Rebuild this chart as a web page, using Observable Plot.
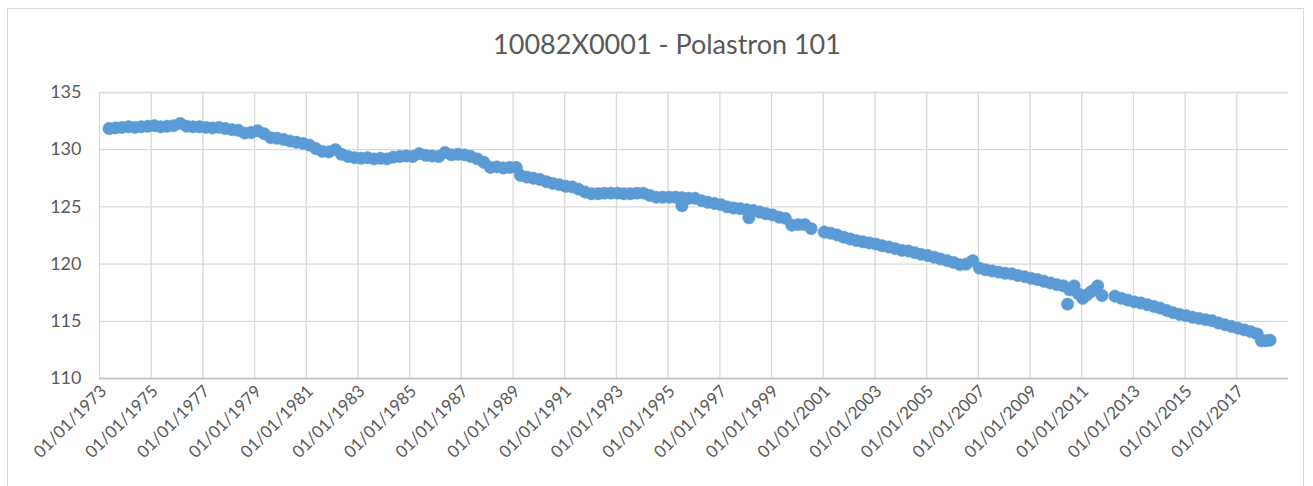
<!DOCTYPE html>
<html>
<head>
<meta charset="utf-8">
<script src="https://cdn.jsdelivr.net/npm/d3@7"></script>
<script src="https://cdn.jsdelivr.net/npm/@observablehq/plot@0.6"></script>
<style>
  html, body { margin: 0; padding: 0; background: #fff; }
  #wrap { position: relative; width: 1313px; height: 486px; overflow: hidden; font-family: Lato, "Liberation Sans", sans-serif; }
  #frame { position: absolute; left: 7px; top: 8px; width: 1297px; height: 500px; border: 1px solid #D9D9D9; box-sizing: border-box; }
  #title { position: absolute; left: 0; width: 1334px; top: 27px; text-align: center; font-size: 27px; color: #595959; }
  #chart { position: absolute; left: 0; top: 0; }
</style>
</head>
<body>
<div id="wrap">
  <div id="frame"></div>
  <div id="chart"></div>
  <div id="title">10082X0001 - Polastron 101</div>
</div>
<script>
const title = "10082X0001 - Polastron 101";

const dates = [
  "1973-05","1973-08","1973-11","1974-02","1974-05","1974-08","1974-11",
  "1975-02","1975-05","1975-08","1975-11","1976-02","1976-05","1976-08","1976-11",
  "1977-02","1977-05","1977-08","1977-11","1978-02","1978-05","1978-08","1978-11",
  "1979-02","1979-05","1979-08","1979-11","1980-02","1980-05","1980-08","1980-11",
  "1981-02","1981-05","1981-08","1981-11","1982-02","1982-05","1982-08","1982-11",
  "1983-02","1983-05","1983-08","1983-11","1984-02","1984-05","1984-08","1984-11",
  "1985-02","1985-05","1985-08","1985-11","1986-02","1986-05","1986-08","1986-11",
  "1987-02","1987-05","1987-08","1987-11","1988-02","1988-05","1988-08","1988-11",
  "1989-02","1989-04","1989-07","1989-10","1990-01","1990-04","1990-07","1990-10",
  "1991-01","1991-04","1991-07","1991-10","1992-01","1992-04","1992-07","1992-10",
  "1993-01","1993-04","1993-07","1993-10","1994-01","1994-04","1994-07","1994-10",
  "1995-01","1995-04","1995-07","1995-10","1996-01","1996-04","1996-07","1996-10",
  "1997-01","1997-04","1997-07","1997-10","1998-01","1998-04","1998-07","1998-10",
  "1999-01","1999-04","1999-07","1999-10","2000-01","2000-04","2000-07",
  "2001-01","2001-04","2001-07","2001-10","2002-01","2002-04","2002-07","2002-10",
  "2003-01","2003-04","2003-07","2003-10","2004-01","2004-04","2004-07","2004-10",
  "2005-01","2005-04","2005-07","2005-10","2006-01","2006-04","2006-07","2006-10",
  "2007-01","2007-04","2007-07","2007-10","2008-01","2008-04","2008-07","2008-10",
  "2009-01","2009-04","2009-07","2009-10","2010-01","2010-04","2010-07","2010-09","2010-11",
  "2011-01","2011-03","2011-05","2011-07","2011-08","2011-10",
  "2012-04","2012-07","2012-10","2013-01","2013-04","2013-07","2013-10",
  "2014-01","2014-04","2014-07","2014-10","2015-01","2015-04","2015-07","2015-10",
  "2016-01","2016-04","2016-07","2016-10","2017-01","2017-04","2017-07","2017-10",
  "2017-12","2018-02","2018-04",
  "1995-07","1998-02","2010-06"
];

const levels = [
  131.85,131.9,131.95,132.0,131.95,132.0,132.05,
  132.1,132.0,132.05,132.1,132.3,132.05,132.0,132.0,
  131.95,131.9,131.95,131.85,131.75,131.7,131.45,131.5,
  131.65,131.4,131.05,131.0,130.9,130.75,130.65,130.55,
  130.4,130.1,129.85,129.8,130.0,129.6,129.4,129.3,
  129.25,129.3,129.2,129.25,129.2,129.35,129.4,129.45,
  129.4,129.65,129.5,129.45,129.4,129.75,129.55,129.6,
  129.55,129.4,129.2,128.9,128.45,128.5,128.4,128.45,
  128.45,127.75,127.6,127.5,127.4,127.2,127.05,126.95,
  126.8,126.75,126.55,126.3,126.15,126.15,126.2,126.2,
  126.2,126.15,126.15,126.2,126.2,126.0,125.85,125.85,
  125.85,125.85,125.8,125.75,125.75,125.55,125.4,125.3,
  125.2,125.0,124.9,124.85,124.75,124.7,124.55,124.4,
  124.3,124.1,124.0,123.4,123.45,123.45,123.1,
  122.8,122.7,122.55,122.35,122.2,122.05,121.95,121.85,
  121.75,121.6,121.5,121.35,121.2,121.15,121.0,120.85,
  120.75,120.6,120.45,120.3,120.15,119.95,120.0,120.3,
  119.65,119.5,119.4,119.3,119.2,119.15,119.0,118.9,
  118.75,118.65,118.5,118.35,118.2,118.1,117.75,118.1,117.4,
  117.0,117.3,117.6,117.8,118.1,117.25,
  117.2,117.0,116.85,116.7,116.6,116.45,116.3,
  116.15,115.95,115.75,115.6,115.5,115.35,115.25,115.15,
  115.05,114.85,114.7,114.55,114.4,114.25,114.1,113.9,
  113.3,113.3,113.35,
  125.1,124.05,116.5
];

const tickYears = [1973,1975,1977,1979,1981,1983,1985,1987,1989,1991,1993,1995,1997,1999,2001,2003,2005,2007,2009,2011,2013,2015,2017];
const yTicks = [110,115,120,125,130,135];
const xStartYear = 1973, xEndYear = 2019;

const parseMonth = d3.utcParse("%Y-%m");
const rows = dates.map((d, i) => ({date: new Date(parseMonth(d).getTime() + 14 * 864e5), level: levels[i]}));
const xTicks = tickYears.map(y => new Date(Date.UTC(y, 0, 1)));
const fmt = d3.utcFormat("%d/%m/%Y");

const chart = Plot.plot({
  width: 1313,
  height: 486,
  marginLeft: 99,
  marginRight: 25,
  marginTop: 92,
  marginBottom: 108,
  style: {fontFamily: "Lato, 'Liberation Sans', sans-serif", fontSize: "17px", color: "#595959", background: "transparent"},
  x: {type: "utc", domain: [new Date(Date.UTC(xStartYear, 0, 1)), new Date(Date.UTC(xEndYear, 0, 1))]},
  y: {domain: [110, 135]},
  marks: [
    Plot.gridX(xTicks, {stroke: "#D9D9D9", strokeOpacity: 1, strokeWidth: 1.3}),
    Plot.gridY(yTicks, {stroke: "#D9D9D9", strokeOpacity: 1, strokeWidth: 1.3}),
    Plot.ruleY([110], {stroke: "#BFBFBF", strokeWidth: 1.6}),
    Plot.axisY(yTicks, {tickSize: 0, tickPadding: 18, label: null, fill: "#595959", fontSize: 18}),
    Plot.axisX(xTicks, {tickSize: 0, tickPadding: 10, dx: 4, tickRotate: -45, tickFormat: fmt, label: null, fill: "#595959", fontSize: 17}),
    Plot.dot(rows, {x: "date", y: "level", r: 6.2, fill: "#5B9BD5", stroke: "#5B9BD5", strokeWidth: 0.5})
  ]
});
document.getElementById("chart").appendChild(chart);
</script>
</body>
</html>
